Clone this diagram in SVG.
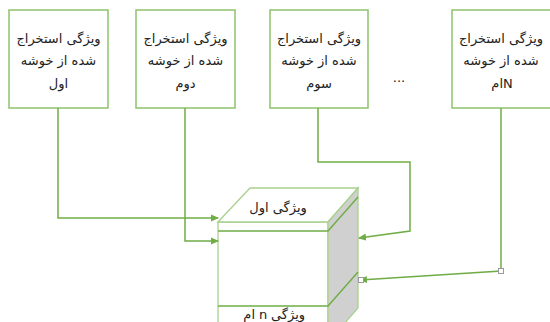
<svg xmlns="http://www.w3.org/2000/svg" width="550" height="322" viewBox="0 0 550 322">
<style>
.box{fill:#fff;stroke:#8dc26b;stroke-width:1.5}
.t{font-family:"DejaVu Sans",sans-serif;font-size:13px;fill:#222;text-anchor:middle}
.s{text-anchor:start}
.e{text-anchor:end}
.c{fill:none;stroke:#70ad47;stroke-width:1.5}
.cl{fill:#fff;stroke:#a9d18e;stroke-width:1.3}
.cd{fill:none;stroke:#70ad47;stroke-width:1.5}
.h{fill:#fff;stroke:#9a9a9a;stroke-width:1}
</style>
<defs>
<marker id="ar" markerWidth="8" markerHeight="8" refX="7" refY="4" orient="auto" markerUnits="userSpaceOnUse">
<path d="M0,0.5 L8,4 L0,7.5 Z" fill="#70ad47"/>
</marker>
</defs>
<g id="node1">
<rect class="box" x="9" y="10" width="99" height="98"/>
<text class="t" x="58.5" y="43">ویژگی استخراج</text>
<text class="t" x="58.5" y="65">شده از خوشه</text>
<text class="t" x="58.5" y="88">اول</text>
</g>
<g id="node2">
<rect class="box" x="136" y="10" width="99" height="98"/>
<text class="t" x="185.5" y="43">ویژگی استخراج</text>
<text class="t" x="185.5" y="65">شده از خوشه</text>
<text class="t" x="185.5" y="88">دوم</text>
</g>
<g id="node3">
<rect class="box" x="270" y="10" width="98" height="98"/>
<text class="t" x="319" y="43">ویژگی استخراج</text>
<text class="t" x="319" y="65">شده از خوشه</text>
<text class="t" x="319" y="88">سوم</text>
</g>
<g id="dots">
<text class="t" x="399" y="82">...</text>
</g>
<g id="nodeN">
<rect class="box" x="452" y="10" width="100" height="98"/>
<text class="t" x="501" y="43">ویژگی استخراج</text>
<text class="t" x="501" y="65">شده از خوشه</text>
<text class="t e" x="503" y="88">ام</text>
<text class="t s" x="503" y="88">N</text>
</g>
<g id="cube">
<rect class="cl" x="218" y="222" width="110" height="122"/>
<polygon class="cl" points="218,222 250,188 358,188 328,222"/>
<polygon class="cl" points="328,222 358,188 358,308 328,342" style="fill:#d0d0d0"/>
<path class="cd" d="M218,231 H328 L358,197"/>
<path class="cd" d="M218,306 H328 L358,272"/>
<text class="t" x="278" y="212">ویژگی اول</text>
<text class="t e" x="255" y="319">ام</text>
<text class="t" x="263" y="319">n</text>
<text class="t s" x="271" y="319">ویژگی</text>
</g>
<g id="connectors">
<path class="c" d="M58,108 V218 H218" marker-end="url(#ar)"/>
<path class="c" d="M185,108 V241 H218" marker-end="url(#ar)"/>
<path class="c" d="M318,108 V162 H410 V231 L359,238" marker-end="url(#ar)"/>
<path class="c" d="M501,108 V271 L360,280" marker-end="url(#ar)"/>
<rect class="h" x="498.5" y="268.5" width="5" height="5"/>
<rect class="h" x="358.5" y="277.5" width="5" height="5"/>
</g>
</svg>
